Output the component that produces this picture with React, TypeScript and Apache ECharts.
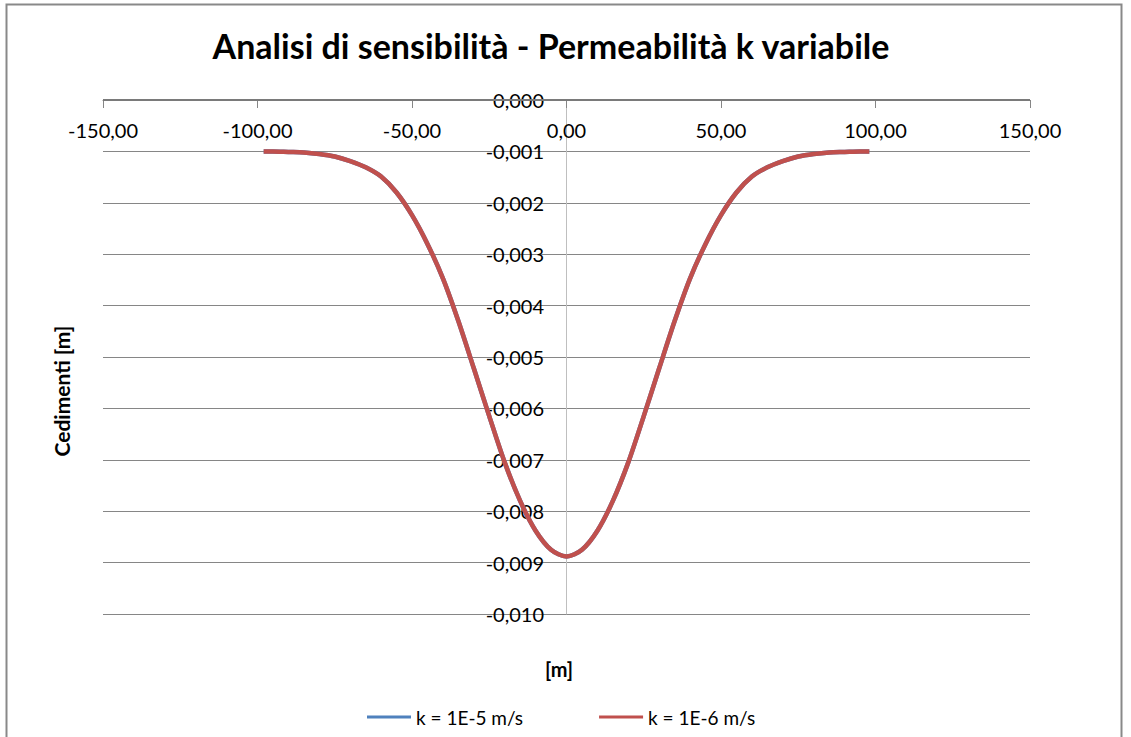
import React, { useEffect, useRef } from "react";
import * as echarts from "echarts";

// Distance from tunnel axis [m]
const xPositions = [
  -98, -95, -90, -85, -80, -75, -70, -65, -60, -55, -50, -45, -40, -35, -30, -25, -20, -15, -10, -5, 0,
  5, 10, 15, 20, 25, 30, 35, 40, 45, 50, 55, 60, 65, 70, 75, 80, 85, 90, 95, 98,
];

// Settlements [m] for k = 1E-5 m/s
const settlementK5 = [
  -0.0010, -0.0010, -0.00101, -0.00102, -0.00105, -0.0011, -0.00119, -0.00131, -0.00149,
  -0.0018, -0.00224, -0.0028, -0.00347, -0.0043, -0.00522, -0.00615, -0.00705, -0.0078,
  -0.00838, -0.00875, -0.00888,
  -0.00875, -0.00838, -0.0078, -0.00705, -0.00615, -0.00522, -0.0043, -0.00347, -0.0028,
  -0.00224, -0.0018, -0.00149, -0.00131, -0.00119, -0.0011, -0.00105, -0.00102, -0.00101,
  -0.0010, -0.0010,
];

// Settlements [m] for k = 1E-6 m/s
const settlementK6 = [
  -0.0010, -0.0010, -0.00101, -0.00102, -0.00105, -0.0011, -0.00119, -0.00131, -0.00149,
  -0.0018, -0.00224, -0.0028, -0.00347, -0.0043, -0.00522, -0.00615, -0.00705, -0.0078,
  -0.00838, -0.00875, -0.00888,
  -0.00875, -0.00838, -0.0078, -0.00705, -0.00615, -0.00522, -0.0043, -0.00347, -0.0028,
  -0.00224, -0.0018, -0.00149, -0.00131, -0.00119, -0.0011, -0.00105, -0.00102, -0.00101,
  -0.0010, -0.0010,
];

const seriesNames = ["k = 1E-5 m/s", "k = 1E-6 m/s"];
const chartTitle = "Analisi di sensibilità - Permeabilità k variabile";
const yAxisTitle = "Cedimenti [m]";
const xAxisTitle = "[m]";

const FONT = "Lato, 'Open Sans', sans-serif";

export default function App() {
  const ref = useRef<HTMLDivElement>(null);

  useEffect(() => {
    if (!ref.current) return;
    const chart = echarts.init(ref.current, undefined, { renderer: "svg" });
    const pair = (ys: number[]) => xPositions.map((x, i) => [x, ys[i]]);

    chart.setOption({
      animation: false,
      backgroundColor: "#ffffff",
      textStyle: { fontFamily: FONT },
      grid: { left: 103, right: 101, top: 100, bottom: 123 },
      legend: {
        data: seriesNames,
        left: 367,
        top: 706,
        padding: 0,
        icon: "rect",
        itemWidth: 44,
        itemHeight: 3,
        itemGap: 76,
        textStyle: { fontFamily: FONT, fontSize: 19, color: "#000", lineHeight: 22 },
      },
      xAxis: {
        type: "value",
        min: -150,
        max: 150,
        interval: 50,
        position: "top",
        axisLine: { show: true, onZero: false, lineStyle: { color: "#868686", width: 1 } },
        axisTick: { show: true, inside: true, length: 8, lineStyle: { color: "#868686" } },
        splitLine: { show: false },
        axisLabel: {
          inside: true,
          margin: 20,
          fontSize: 20,
          fontFamily: FONT,
          color: "#000",
          formatter: (v: number) => v.toFixed(2).replace(".", ","),
        },
      },
      yAxis: {
        type: "value",
        min: -0.01,
        max: 0,
        interval: 0.001,
        position: "left",
        offset: -463,
        axisLine: { show: true, onZero: false, lineStyle: { color: "#BFBFBF", width: 1 } },
        axisTick: { show: false },
        splitLine: { show: true, lineStyle: { color: "#868686", width: 1 } },
        axisLabel: {
          margin: 22,
          fontSize: 20,
          fontFamily: FONT,
          color: "#000",
          formatter: (v: number) => v.toFixed(3).replace(".", ","),
        },
      },
      series: [
        {
          name: seriesNames[0],
          type: "line",
          data: pair(settlementK5),
          smooth: 0.3,
          showSymbol: false,
          symbol: "none",
          lineStyle: { color: "#4F81BD", width: 4.5 },
          itemStyle: { color: "#4F81BD" },
          markLine: {
            silent: true,
            symbol: "none",
            label: { show: false },
            lineStyle: { color: "#7a7a7a", width: 2, type: "solid" },
            data: [{ yAxis: -0.004 }],
          },
          z: 2,
        },
        {
          name: seriesNames[1],
          type: "line",
          data: pair(settlementK6),
          smooth: 0.3,
          showSymbol: false,
          symbol: "none",
          lineStyle: { color: "#C0504D", width: 4.5 },
          itemStyle: { color: "#C0504D" },
          z: 3,
        },
      ],
      graphic: [
        {
          type: "rect",
          shape: { x: 6.5, y: 4.5, width: 1115, height: 800 },
          style: { fill: "none", stroke: "#898989", lineWidth: 2 },
          silent: true,
          z: -1,
        },
        {
          type: "text",
          x: 551,
          y: 45,
          style: {
            text: chartTitle,
            fontSize: 34,
            fontWeight: "bold",
            fontFamily: FONT,
            fill: "#000",
            textAlign: "center",
            textVerticalAlign: "middle",
          },
        },
        {
          type: "text",
          x: 61,
          y: 391,
          rotation: Math.PI / 2,
          style: {
            text: yAxisTitle,
            fontSize: 21,
            fontWeight: "bold",
            fontFamily: FONT,
            fill: "#000",
            textAlign: "center",
            textVerticalAlign: "middle",
          },
        },
        {
          type: "text",
          x: 559,
          y: 669,
          style: {
            text: xAxisTitle,
            fontSize: 20,
            fontWeight: "bold",
            fontFamily: FONT,
            fill: "#000",
            textAlign: "center",
            textVerticalAlign: "middle",
          },
        },
      ],
    });

    return () => chart.dispose();
  }, []);

  return (
    <div
      ref={ref}
      style={{ position: "fixed", left: 0, top: 0, width: 1131, height: 737, background: "#fff" }}
    />
  );
}
